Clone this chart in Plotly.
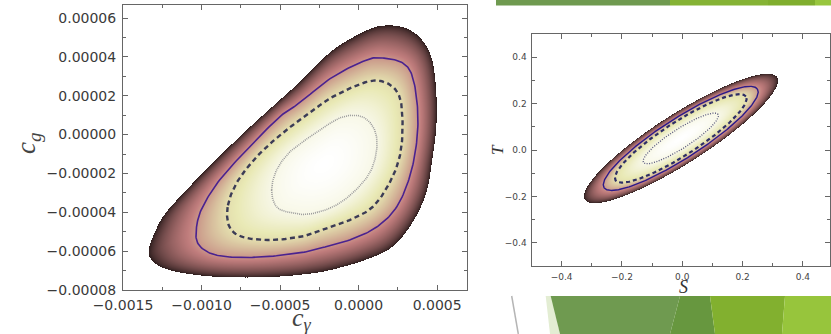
import numpy as np
import plotly.graph_objects as go

# ---------------- data ----------------
# Left panel: confidence contours in the (c_gamma, c_g) plane
outer_cgam = np.array([-1.331, -1.268, -1.140, -0.930, -0.713, -0.503, -0.312, -0.166, 0.051, 0.217,
                       0.344, 0.433, 0.471, 0.497, 0.497, 0.471, 0.408, 0.306, 0.178, 0.051,
                       -0.166, -0.376, -0.503, -0.713, -0.930, -1.140, -1.248, -1.312, -1.338]) * 1e-3
outer_cg = np.array([-6.35, -6.81, -7.12, -7.33, -7.38, -7.33, -7.18, -6.97, -6.45, -5.79,
                     -4.55, -3.01, -1.31, 0.39, 2.14, 3.84, 4.87, 5.49, 5.64, 5.38,
                     4.35, 2.71, 1.78, 0.24, -1.46, -3.21, -4.24, -5.27, -5.94]) * 1e-5

solid_cgam = np.array([-1.032, -1.025, -0.949, -0.822, -0.611, -0.376, -0.268, -0.057, 0.115, 0.242,
                       0.325, 0.369, 0.376, 0.344, 0.280, 0.153, 0.051, -0.166, -0.376, -0.503,
                       -0.713, -0.885, -0.994]) * 1e-3
solid_cg = np.array([-4.76, -5.58, -6.09, -6.30, -6.30, -6.09, -5.89, -5.43, -4.76, -3.73,
                     -2.18, -0.43, 1.27, 2.96, 3.69, 3.94, 3.84, 2.96, 1.63, 0.91,
                     -0.79, -2.34, -3.73]) * 1e-5

dashed_cgam = np.array([-0.834, -0.822, -0.739, -0.567, -0.376, -0.268, -0.057, 0.089, 0.197, 0.261,
                        0.280, 0.261, 0.178, 0.051, -0.166, -0.312, -0.484, -0.650, -0.777]) * 1e-3
dashed_cg = np.array([-3.73, -4.76, -5.27, -5.43, -5.27, -5.01, -4.40, -3.73, -2.49, -1.15,
                      0.39, 1.94, 2.66, 2.71, 1.94, 1.11, 0.08, -1.15, -2.49]) * 1e-5

dotted_cgam = np.array([-0.554, -0.522, -0.420, -0.312, -0.166, -0.038, 0.070, 0.115, 0.102, 0.025,
                        -0.102, -0.248, -0.312, -0.439, -0.522]) * 1e-3
dotted_cg = np.array([-2.85, -3.73, -4.04, -4.09, -3.73, -3.01, -1.98, -0.79, 0.24, 0.91,
                      0.91, 0.24, -0.12, -0.90, -1.82]) * 1e-5

best_cgam, best_cg = -0.22e-3, -1.5e-5

# Right panel: elliptical contours in the (S, T) plane
st_center = np.array([-0.005, 0.05])
st_major = np.array([0.318, 0.2655])   # semi-major vector of outer contour
st_minor = np.array([-0.045, 0.090])   # semi-minor vector of outer contour
st_level_scale = [0.39, 0.68, 0.80, 1.0]  # dotted, dashed, solid, outer

# shade of each contour (centre, dotted, dashed, solid, outer edge)
level_shade = [1.0, 0.91, 0.70, 0.43, 0.02]

# axis ranges
xr_L = [-0.0015, 0.00069]
yr_L = [-0.00008, 0.0000667]
xr_R = [-0.5, 0.49]
yr_R = [-0.5, 0.5]


# ---------------- helpers ----------------
def pink_rgb(t):
    hr = np.clip(t / 0.365079, 0, 1)
    hg = np.clip((t - 0.365079) / (0.746032 - 0.365079), 0, 1)
    hb = np.clip((t - 0.746032) / (1 - 0.746032), 0, 1)
    r = np.sqrt((2 * t + hr) / 3)
    g = np.sqrt((2 * t + hg) / 3)
    b = np.sqrt((2 * t + hb) / 3)
    r = max(r, 0.1178)
    return "rgb(%d,%d,%d)" % (round(r * 255), round(g * 255), round(b * 255))


colorscale = [[float(t), pink_rgb(float(t))] for t in np.linspace(0, 1, 41)]


def smooth_closed(x, y, n=14):
    P = np.stack([x, y], 1)
    N = len(P)
    out = []
    for i in range(N):
        p0, p1, p2, p3 = P[(i - 1) % N], P[i], P[(i + 1) % N], P[(i + 2) % N]
        for tt in np.linspace(0, 1, n, endpoint=False):
            t2, t3 = tt * tt, tt * tt * tt
            out.append(0.5 * ((2 * p1) + (-p0 + p2) * tt + (2 * p0 - 5 * p1 + 4 * p2 - p3) * t2
                              + (-p0 + 3 * p1 - 3 * p2 + p3) * t3))
    out.append(out[0])
    out = np.array(out)
    return out[:, 0], out[:, 1]


def radial_shade(r, radii):
    R = [np.zeros_like(r)] + list(radii)
    S = level_shade
    z = np.full(r.shape, np.nan)
    for k in range(len(R) - 1):
        m = (r >= R[k]) & (r <= R[k + 1])
        f = (r[m] - R[k][m]) / (R[k + 1][m] - R[k][m])
        if k == 0:
            f = f ** 1.6
        z[m] = S[k] + f * (S[k + 1] - S[k])
    return z


# ---------------- left field ----------------
nxL, nyL = 344, 285
sxL = nxL / (xr_L[1] - xr_L[0])
syL = nyL / (yr_L[1] - yr_L[0])
gxL = np.linspace(xr_L[0], xr_L[1], nxL)
gyL = np.linspace(yr_L[0], yr_L[1], nyL)
GX, GY = np.meshgrid(gxL, gyL)
U = (GX - best_cgam) * sxL
V = (GY - best_cg) * syL
TH = np.arctan2(V, U)
RR = np.hypot(U, V)
curves_L = [smooth_closed(dotted_cgam, dotted_cg), smooth_closed(dashed_cgam, dashed_cg),
            smooth_closed(solid_cgam, solid_cg), smooth_closed(outer_cgam, outer_cg)]
radii = []
for cx_, cy_ in curves_L:
    u = (cx_ - best_cgam) * sxL
    v = (cy_ - best_cg) * syL
    th = np.arctan2(v, u)
    r = np.hypot(u, v)
    o = np.argsort(th)
    radii.append(np.interp(TH, th[o], r[o], period=2 * np.pi))
zL = radial_shade(RR, radii)

# ---------------- right field ----------------
nxR, nyR = 300, 232
gxR = np.linspace(xr_R[0], xr_R[1], nxR)
gyR = np.linspace(yr_R[0], yr_R[1], nyR)
GXR, GYR = np.meshgrid(gxR, gyR)
Minv = np.linalg.inv(np.column_stack([st_major, st_minor]))
d = np.stack([GXR - st_center[0], GYR - st_center[1]])
ab = np.tensordot(Minv, d, axes=1)
RRR = np.hypot(ab[0], ab[1])
zR = radial_shade(RRR, [np.full_like(RRR, k) for k in st_level_scale])

th = np.linspace(0, 2 * np.pi, 400)
curves_R = []
for k in st_level_scale:
    curves_R.append((st_center[0] + k * (st_major[0] * np.cos(th) + st_minor[0] * np.sin(th)),
                     st_center[1] + k * (st_major[1] * np.cos(th) + st_minor[1] * np.sin(th))))

# ---------------- figure ----------------
fig = go.Figure()
fig.add_trace(go.Heatmap(x=gxL, y=gyL, z=zL, zmin=0, zmax=1, colorscale=colorscale,
                         showscale=False, hoverinfo="skip", xaxis="x", yaxis="y"))
fig.add_trace(go.Heatmap(x=gxR, y=gyR, z=zR, zmin=0, zmax=1, colorscale=colorscale,
                         showscale=False, hoverinfo="skip", xaxis="x2", yaxis="y2"))

styles_L = [dict(color="#9a9a9a", width=1.6, dash="1px,1px"),
            dict(color="#3c3c56", width=2.4, dash="5px,3.5px"),
            dict(color="#4a2290", width=1.6),
            None]
styles_R = [dict(color="#55557a", width=1.3, dash="1px,1.5px"),
            dict(color="#2e2e66", width=2.2, dash="4px,3px"),
            dict(color="#2c1a8a", width=1.4),
            None]
for (cx_, cy_), st in zip(curves_L, styles_L):
    if st is None:
        continue
    fig.add_trace(go.Scatter(x=cx_, y=cy_, mode="lines", line=st, hoverinfo="skip",
                             xaxis="x", yaxis="y"))
for (cx_, cy_), st in zip(curves_R, styles_R):
    if st is None:
        continue
    fig.add_trace(go.Scatter(x=cx_, y=cy_, mode="lines", line=st, hoverinfo="skip",
                             xaxis="x2", yaxis="y2"))

W, H = 831, 334
axc = "#666666"
tick_font_L = dict(family="DejaVu Sans", size=14, color="#3a3a3a")
tick_font_R = dict(family="DejaVu Sans", size=9, color="#444444")


def ax(domain, rng, tick0, dtick, fmt, font, anchor, standoff):
    return dict(domain=domain, range=rng, tickmode="linear", tick0=tick0, dtick=dtick,
                tickformat=fmt, tickfont=font, showline=True, linecolor=axc, linewidth=1,
                mirror="allticks", ticks="inside", ticklen=5, tickcolor=axc, showgrid=False,
                zeroline=False, anchor=anchor, automargin=False, ticklabelstandoff=standoff,
                minor=dict(ticks="inside", ticklen=3, tickcolor=axc, dtick=dtick / 2, tick0=tick0))


layout = dict(
    width=W, height=H, margin=dict(l=0, r=0, t=0, b=0),
    paper_bgcolor="white", plot_bgcolor="white", showlegend=False,
    xaxis=ax([123 / W, 467 / W], xr_L, -0.0015, 0.0005, ".4f", tick_font_L, "y", 2),
    yaxis=ax([1 - 290 / H, 1 - 5 / H], yr_L, -0.00008, 0.00002, ".5f", tick_font_L, "x", 3),
    xaxis2=ax([531.5 / W, 830 / W], xr_R, -0.4, 0.2, ".1f", tick_font_R, "y2", 2),
    yaxis2=ax([1 - 266 / H, 1 - 34 / H], yr_R, -0.4, 0.2, ".1f", tick_font_R, "x2", 2),
)
fig.update_layout(**layout)

ser = "Liberation Serif"
common = dict(xref="paper", yref="paper", showarrow=False, xanchor="center", yanchor="middle",
              borderpad=0)
fig.add_annotation(x=28 / W, y=1 - 143 / H, textangle=-90,
                   text="<i>c</i><sub><i>g</i></sub>",
                   font=dict(family=ser, size=27, color="#444"), **common)
fig.add_annotation(x=302 / W, y=1 - 319 / H,
                   text="<i>c</i><sub><i>γ</i></sub>",
                   font=dict(family=ser, size=26, color="#444"), **common)
fig.add_annotation(x=497 / W, y=1 - 150 / H, textangle=-90,
                   text="<i>T</i>", font=dict(family=ser, size=17, color="#333"), **common)
fig.add_annotation(x=683 / W, y=1 - 287 / H,
                   text="<i>S</i>", font=dict(family=ser, size=18, color="#333"), **common)


# ---------------- slide decorations ----------------
def P(x, y):
    return "%.5f,%.5f" % (x / W, 1 - y / H)


def poly(pts, color):
    path = "M" + " L".join(P(x, y) for x, y in pts) + " Z"
    return dict(type="path", xref="paper", yref="paper", path=path,
                fillcolor=color, line=dict(width=0), layer="above")


shapes = [
    poly([(496, 0), (670, 0), (670, 5.5), (496, 5.5)], "#6f9a50"),
    poly([(670, 0), (768, 0), (768, 5.5), (670, 5.5)], "#85b335"),
    poly([(768, 0), (815, 0), (815, 5.5), (768, 5.5)], "#80ae2e"),
    poly([(815, 0), (831, 0), (831, 5.5), (815, 5.5)], "#98c63e"),
    poly([(545.7, 296), (551.7, 296), (560, 334), (550, 334)], "#e3edd3"),
    poly([(550.7, 296), (680, 296), (670, 334), (560, 334)], "#6f9a50"),
    poly([(680, 296), (710, 296), (715, 334), (670, 334)], "#67973f"),
    poly([(710, 296), (785, 296), (782, 334), (715, 334)], "#82b02f"),
    poly([(785, 296), (831, 296), (831, 334), (782, 334)], "#97c53c"),
    dict(type="line", xref="paper", yref="paper", x0=511.7 / W, y0=1 - 296 / H,
         x1=518.3 / W, y1=1 - 334 / H, line=dict(color="#b5b5b5", width=1.5)),
]
fig.update_layout(shapes=shapes)

fig.write_html("out.html")
